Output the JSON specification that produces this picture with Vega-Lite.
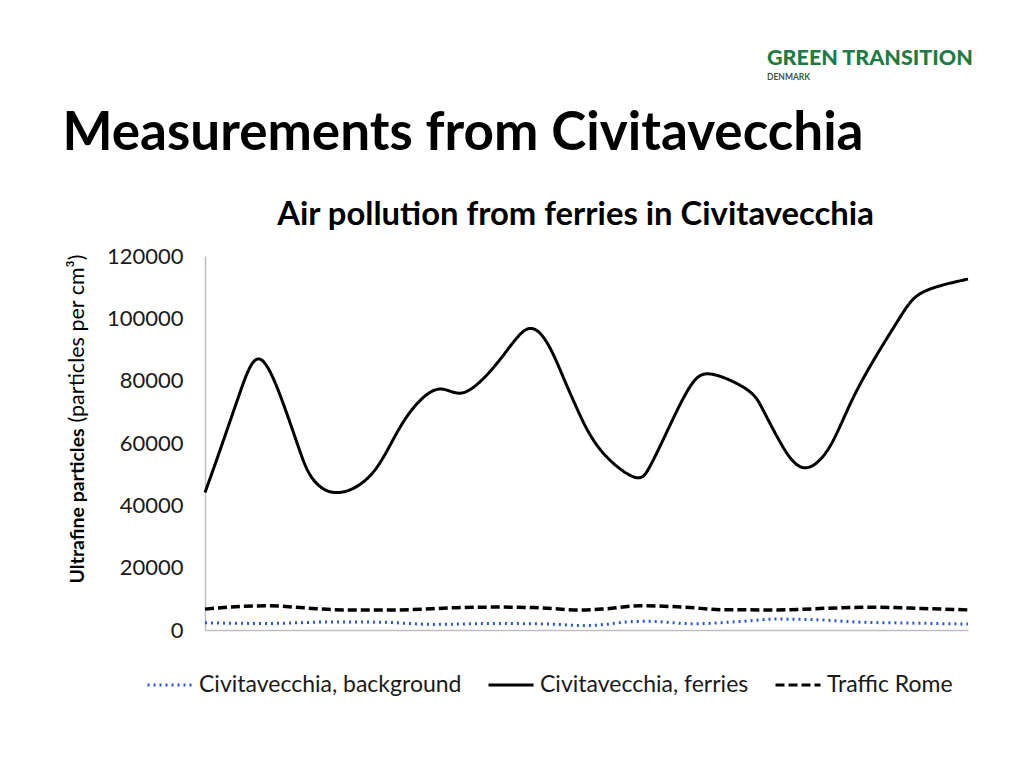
{
  "$schema": "https://vega.github.io/schema/vega-lite/v6.json",
  "width": 763,
  "height": 374,
  "autosize": {"type": "none"},
  "padding": {"left": 205, "top": 256, "right": 56, "bottom": 138},
  "background": "white",
  "title": {
    "text": "GREEN TRANSITION",
    "subtitle": "DENMARK",
    "anchor": "start",
    "frame": "group",
    "dx": 562,
    "offset": 26,
    "font": "Lato",
    "fontSize": 21.5,
    "fontWeight": 900,
    "color": "#1e7b45",
    "subtitleFont": "Lato",
    "subtitleFontSize": 8.5,
    "subtitleFontWeight": "bold",
    "subtitleColor": "#3a5a48",
    "subtitlePadding": 3
  },
  "config": {
    "font": "Lato",
    "view": {"stroke": null},
    "legend": {
      "orient": "none",
      "legendX": -59,
      "legendY": 405,
      "direction": "horizontal",
      "symbolType": "stroke",
      "symbolSize": 2025,
      "symbolStrokeWidth": 3,
      "labelFontSize": 23,
      "labelColor": "#1a1a1a",
      "labelLimit": 400,
      "columnPadding": 20,
      "labelOffset": 5,
      "title": null
    }
  },
  "data": {
    "values": [
      {"t": 0, "value": 44100, "series": "Civitavecchia, ferries"},
      {"t": 2.0, "value": 57900, "series": "Civitavecchia, ferries"},
      {"t": 4.6, "value": 76300, "series": "Civitavecchia, ferries"},
      {"t": 7.2, "value": 86900, "series": "Civitavecchia, ferries"},
      {"t": 10.2, "value": 73000, "series": "Civitavecchia, ferries"},
      {"t": 12.5, "value": 56950, "series": "Civitavecchia, ferries"},
      {"t": 14.2, "value": 48260, "series": "Civitavecchia, ferries"},
      {"t": 17.3, "value": 44080, "series": "Civitavecchia, ferries"},
      {"t": 22.0, "value": 50500, "series": "Civitavecchia, ferries"},
      {"t": 26.0, "value": 66800, "series": "Civitavecchia, ferries"},
      {"t": 30.4, "value": 77200, "series": "Civitavecchia, ferries"},
      {"t": 34.0, "value": 76250, "series": "Civitavecchia, ferries"},
      {"t": 38.7, "value": 86900, "series": "Civitavecchia, ferries"},
      {"t": 42.2, "value": 96500, "series": "Civitavecchia, ferries"},
      {"t": 44.8, "value": 92300, "series": "Civitavecchia, ferries"},
      {"t": 46.9, "value": 81400, "series": "Civitavecchia, ferries"},
      {"t": 48.8, "value": 70800, "series": "Civitavecchia, ferries"},
      {"t": 51.8, "value": 57900, "series": "Civitavecchia, ferries"},
      {"t": 56.1, "value": 49200, "series": "Civitavecchia, ferries"},
      {"t": 58.2, "value": 52000, "series": "Civitavecchia, ferries"},
      {"t": 60.5, "value": 63400, "series": "Civitavecchia, ferries"},
      {"t": 63.6, "value": 78200, "series": "Civitavecchia, ferries"},
      {"t": 66.6, "value": 82000, "series": "Civitavecchia, ferries"},
      {"t": 71.0, "value": 77200, "series": "Civitavecchia, ferries"},
      {"t": 73.1, "value": 70800, "series": "Civitavecchia, ferries"},
      {"t": 75.4, "value": 60200, "series": "Civitavecchia, ferries"},
      {"t": 78.4, "value": 52100, "series": "Civitavecchia, ferries"},
      {"t": 81.9, "value": 58900, "series": "Civitavecchia, ferries"},
      {"t": 85.5, "value": 77200, "series": "Civitavecchia, ferries"},
      {"t": 90.7, "value": 98800, "series": "Civitavecchia, ferries"},
      {"t": 94.1, "value": 108400, "series": "Civitavecchia, ferries"},
      {"t": 100, "value": 112600, "series": "Civitavecchia, ferries"},
      {"t": 0, "value": 6700, "series": "Traffic Rome"},
      {"t": 5, "value": 7600, "series": "Traffic Rome"},
      {"t": 8.5, "value": 7750, "series": "Traffic Rome"},
      {"t": 13, "value": 7100, "series": "Traffic Rome"},
      {"t": 18, "value": 6450, "series": "Traffic Rome"},
      {"t": 25, "value": 6450, "series": "Traffic Rome"},
      {"t": 33, "value": 7150, "series": "Traffic Rome"},
      {"t": 38, "value": 7350, "series": "Traffic Rome"},
      {"t": 43, "value": 7200, "series": "Traffic Rome"},
      {"t": 49, "value": 6450, "series": "Traffic Rome"},
      {"t": 52, "value": 6700, "series": "Traffic Rome"},
      {"t": 57, "value": 7800, "series": "Traffic Rome"},
      {"t": 63, "value": 7300, "series": "Traffic Rome"},
      {"t": 68, "value": 6500, "series": "Traffic Rome"},
      {"t": 75, "value": 6450, "series": "Traffic Rome"},
      {"t": 83, "value": 7100, "series": "Traffic Rome"},
      {"t": 88, "value": 7300, "series": "Traffic Rome"},
      {"t": 94, "value": 6900, "series": "Traffic Rome"},
      {"t": 100, "value": 6450, "series": "Traffic Rome"},
      {"t": 0, "value": 2300, "series": "Civitavecchia, background"},
      {"t": 8, "value": 2100, "series": "Civitavecchia, background"},
      {"t": 17, "value": 2600, "series": "Civitavecchia, background"},
      {"t": 23, "value": 2500, "series": "Civitavecchia, background"},
      {"t": 30, "value": 1800, "series": "Civitavecchia, background"},
      {"t": 38, "value": 2100, "series": "Civitavecchia, background"},
      {"t": 45, "value": 1900, "series": "Civitavecchia, background"},
      {"t": 50, "value": 1400, "series": "Civitavecchia, background"},
      {"t": 56, "value": 2700, "series": "Civitavecchia, background"},
      {"t": 58, "value": 2800, "series": "Civitavecchia, background"},
      {"t": 64, "value": 2000, "series": "Civitavecchia, background"},
      {"t": 70, "value": 2700, "series": "Civitavecchia, background"},
      {"t": 75, "value": 3500, "series": "Civitavecchia, background"},
      {"t": 80, "value": 3300, "series": "Civitavecchia, background"},
      {"t": 86, "value": 2500, "series": "Civitavecchia, background"},
      {"t": 93, "value": 2200, "series": "Civitavecchia, background"},
      {"t": 100, "value": 1900, "series": "Civitavecchia, background"}
    ]
  },
  "resolve": {"axis": {"x": "independent", "y": "independent"}},
  "layer": [
    {
      "transform": [{"filter": "datum.series === 'Civitavecchia, ferries'"}],
      "mark": {"type": "line", "interpolate": "natural", "strokeWidth": 3},
      "encoding": {
        "x": {
          "field": "t", "type": "quantitative",
          "scale": {"domain": [0, 100], "nice": false, "zero": false},
          "axis": {"orient": "bottom", "labels": false, "ticks": false, "grid": false, "domain": true, "domainColor": "#bfbfbf", "domainWidth": 1.5, "title": null}
        },
        "y": {
          "field": "value", "type": "quantitative",
          "scale": {"domain": [0, 120000], "nice": false},
          "axis": {
            "orient": "left",
            "values": [0, 20000, 40000, 60000, 80000, 100000, 120000],
            "format": "d",
            "ticks": false, "grid": false,
            "domain": true, "domainColor": "#bfbfbf", "domainWidth": 1.5,
            "labelPadding": 22, "labelFontSize": 22, "labelColor": "#1a1a1a",
            "title": "Ultrafine particles",
            "titleAngle": 270, "titleAlign": "left", "titleBaseline": "alphabetic",
            "titleX": -122, "titleY": 327,
            "titleFontSize": 19.5, "titleFontWeight": "bold", "titleColor": "#000000"
          }
        },
        "color": {
          "field": "series", "type": "nominal",
          "scale": {"domain": ["Civitavecchia, background", "Civitavecchia, ferries", "Traffic Rome"], "range": ["#2a56d6", "#000000", "#000000"]}
        },
        "strokeDash": {
          "field": "series", "type": "nominal",
          "scale": {"domain": ["Civitavecchia, background", "Civitavecchia, ferries", "Traffic Rome"], "range": [[2, 4], [1, 0], [9, 4]]}
        }
      }
    },
    {
      "transform": [{"filter": "datum.series === 'Traffic Rome'"}],
      "mark": {"type": "line", "interpolate": "monotone", "strokeWidth": 3.5},
      "encoding": {
        "x": {
          "field": "t", "type": "quantitative",
          "axis": {"orient": "top", "labels": false, "ticks": false, "grid": false, "domain": false,
            "title": "Air pollution from ferries in Civitavecchia",
            "titleX": 370, "titleY": -32, "titleAlign": "center", "titleBaseline": "alphabetic",
            "titleFontSize": 32.8, "titleFontWeight": "bold", "titleColor": "#000000"}
        },
        "y": {
          "field": "value", "type": "quantitative",
          "axis": {"orient": "left", "labels": false, "ticks": false, "grid": false, "domain": false,
            "title": "(particles per cm³)",
            "titleAngle": 270, "titleAlign": "left", "titleBaseline": "alphabetic",
            "titleX": -122, "titleY": 166,
            "titleFontSize": 21.5, "titleFontWeight": "normal", "titleColor": "#000000"}
        },
        "color": {"field": "series", "type": "nominal"},
        "strokeDash": {"field": "series", "type": "nominal"}
      }
    },
    {
      "transform": [{"filter": "datum.series === 'Civitavecchia, background'"}],
      "mark": {"type": "line", "interpolate": "monotone", "strokeWidth": 3},
      "encoding": {
        "x": {
          "field": "t", "type": "quantitative",
          "axis": {"orient": "top", "labels": false, "ticks": false, "grid": false, "domain": false,
            "title": "Measurements from Civitavecchia",
            "titleX": -143, "titleY": -107, "titleAlign": "left", "titleBaseline": "alphabetic",
            "titleFontSize": 53, "titleFontWeight": "bold", "titleColor": "#000000"}
        },
        "y": {"field": "value", "type": "quantitative", "axis": null},
        "color": {"field": "series", "type": "nominal"},
        "strokeDash": {"field": "series", "type": "nominal"}
      }
    }
  ]
}
